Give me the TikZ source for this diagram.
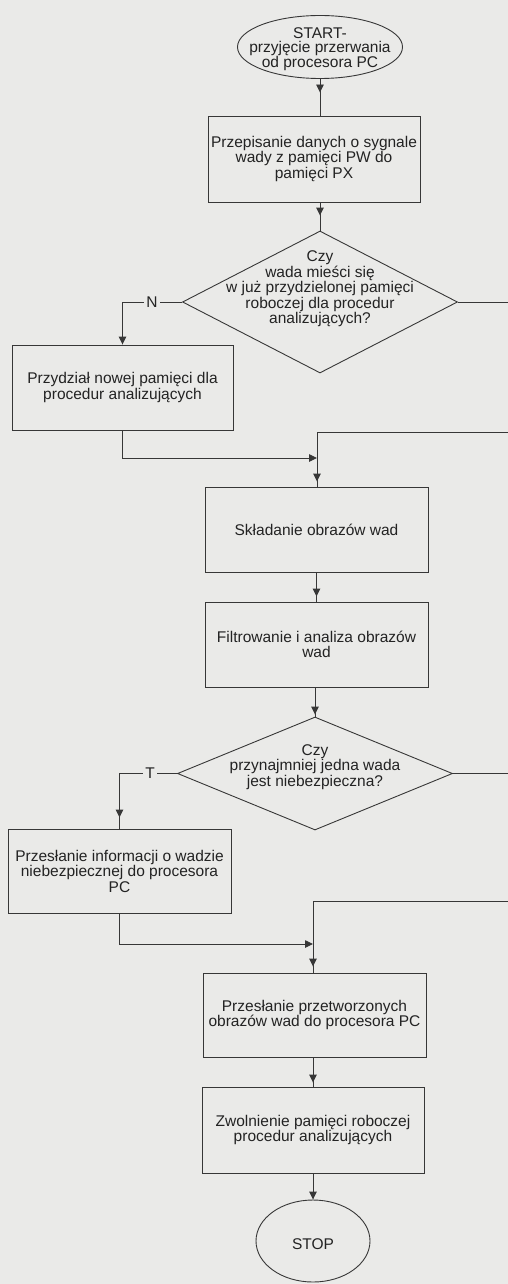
\documentclass[tikz,border=0pt]{standalone}
\usepackage{fontspec}
\setmainfont{Liberation Sans}
\usetikzlibrary{shapes.geometric,arrows.meta,decorations.markings}
\definecolor{bg}{RGB}{234,234,232}
\definecolor{ink}{RGB}{55,55,55}
\definecolor{txt}{RGB}{35,35,35}
\begin{document}
\begin{tikzpicture}[x=1pt,y=-1pt,
  every node/.style={font=\fontsize{15.5}{15.5}\selectfont, text=txt, align=center},
  procbox/.style={draw=ink, line width=0.9pt, rectangle, inner sep=0pt},
  decision/.style={draw=ink, line width=0.9pt, diamond, inner sep=0pt},
  term/.style={draw=ink, line width=0.9pt, ellipse, inner sep=0pt},
  conn/.style={color=ink, line width=0.9pt},
  tipend/.style={-{Triangle[width=7.5pt,length=8pt]}},
  arr/.style={postaction={decorate}, decoration={markings, mark=at position #1 with {\arrow{Triangle[width=7.5pt,length=8pt]}}}},
  lbl/.style={fill=bg, inner sep=2pt}
]
\useasboundingbox (0,0) rectangle (508,1284);
\clip (0,0) rectangle (508,1284);
\fill[bg] (0,0) rectangle (508,1284);

% nodes
\node[term, minimum width=165pt, minimum height=63pt] (start) at (320,47) {};
\node[font=\fontsize{15.5}{14.5}\selectfont] (startt) at (320,49) {START-\\przyjęcie przerwania\\od procesora PC};
\node[procbox, minimum width=212pt, minimum height=86pt] (b2) at (314,159) {Przepisanie danych o sygnale\\wady z pamięci PW do\\pamięci PX};
\node[decision, minimum width=275pt, minimum height=142pt] (d1) at (320,302) {};
\node (d1t) at (320,289) {Czy\\wada mieści się\\w już przydzielonej pamięci\\roboczej dla procedur\\analizujących?};
\node[procbox, minimum width=221pt, minimum height=85pt] (b3) at (122.5,387.5) {Przydział nowej pamięci dla\\procedur analizujących};
\node[procbox, minimum width=223pt, minimum height=85pt] (b4) at (316.5,529.5) {Składanie obrazów wad};
\node[procbox, minimum width=223pt, minimum height=85pt] (b5) at (316.5,644.5) {Filtrowanie i analiza obrazów\\wad};
\node[decision, minimum width=275pt, minimum height=113pt] (d2) at (315,773.5) {};
\node (d2t) at (315,767) {Czy\\przynajmniej jedna wada\\jest niebezpieczna?};
\node[procbox, minimum width=223pt, minimum height=84pt] (b6) at (119.5,871) {Przesłanie informacji o wadzie\\niebezpiecznej do procesora\\PC};
\node[procbox, minimum width=223pt, minimum height=84pt] (b7) at (314.5,1015) {Przesłanie przetworzonych\\obrazów wad do procesora PC};
\node[procbox, minimum width=222pt, minimum height=86pt] (b8) at (313,1130) {Zwolnienie pamięci roboczej\\procedur analizujących};
\node[term, minimum width=114pt, minimum height=82pt] (st) at (313,1241) {};
\node (stt) at (313,1244) {STOP};

% coordinates for junctions and off-page loops
\coordinate (r1) at (530,432);
\coordinate (j1) at (317,458);
\coordinate (r2) at (530,901);
\coordinate (j2) at (313,944);

% connectors
\draw[conn, arr=-23pt] (start.south) -- (start.south |- b2.north);
\draw[conn, arr=-15pt] (b2.south -| d1.north) -- (d1.north);
\draw[conn, tipend] (d1.west) -| (b3.north);
\node[lbl] (nlab) at (152,302) {N};
\draw[conn] (d1.east) -| (r1) -| (j1);
\draw[conn, tipend] (b3.south) |- (j1);
\draw[conn, arr=-5pt] (j1) -- (j1 |- b4.north);
\draw[conn, arr=-5pt] (b4.south) -- (b4.south |- b5.north);
\draw[conn, arr=-2pt] (b5.south -| d2.north) -- (d2.north);
\draw[conn, arr=-11pt] (d2.west) -| (b6.north);
\node[lbl] (tlab) at (150,773.5) {T};
\draw[conn] (d2.east) -| (r2) -| (j2);
\draw[conn, tipend] (b6.south) |- (j2);
\draw[conn, arr=-6pt] (j2) -- (j2 |- b7.north);
\draw[conn, arr=-4pt] (b7.south -| b8.north) -- (b8.north);
\draw[conn, tipend] (b8.south) -- (st.north);
\end{tikzpicture}
\end{document}
